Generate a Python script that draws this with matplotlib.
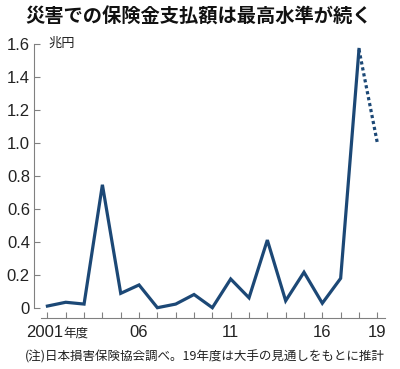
import matplotlib
matplotlib.use("Agg")
import matplotlib.pyplot as plt
from matplotlib.transforms import ScaledTranslation

# data (trillion yen), fiscal years 2001-2019 (2019 is an estimate)
years = list(range(2001, 2020))
payouts = [0.01, 0.033, 0.022, 0.745, 0.087, 0.138, 0.0, 0.022, 0.08, 0.0,
           0.174, 0.06, 0.41, 0.042, 0.215, 0.027, 0.178, 1.565, 1.0]
x_labels = {2001: "2001", 2006: "06", 2011: "11", 2016: "16", 2019: "19"}
y_ticks = [0, 0.2, 0.4, 0.6, 0.8, 1.0, 1.2, 1.4, 1.6]
y_labels = ["0", "0.2", "0.4", "0.6", "0.8", "1.0", "1.2", "1.4", "1.6"]

title = "災害での保険金支払額は最高水準が続く"
unit = "兆円"
note = "(注)日本損害保険協会調べ。19年度は大手の見通しをもとに推計"

navy = "#1c4876"
grey = "#808080"
num_font = ["Liberation Sans Narrow", "Liberation Sans", "DejaVu Sans"]
jp_font = ["Noto Sans CJK JP", "DejaVu Sans"]

fig = plt.figure(figsize=(4.0, 3.69), dpi=100)
ax = fig.add_axes([0.1025, 0.1661, 0.86, 0.7155])

# solid line for actual values, dotted for the 2019 estimate
ax.plot(years[:-1], payouts[:-1], color=navy, lw=2.3,
        solid_joinstyle="miter", clip_on=False)
ax.plot(years[-2:], payouts[-2:], color=navy, lw=2.3,
        dashes=(1, 0.9), dash_capstyle="butt", clip_on=False)

ax.set_xlim(2000.65, 2019.42)
ax.set_ylim(0, 1.6)

ax.spines["top"].set_visible(False)
ax.spines["right"].set_visible(False)
ax.spines["left"].set_position(("outward", 5))
ax.spines["bottom"].set_position(("outward", 7.6))
ax.spines["left"].set_bounds(0, 1.6)
for s in ("left", "bottom"):
    ax.spines[s].set_color(grey)
    ax.spines[s].set_linewidth(0.8)

ax.set_yticks(y_ticks)
ax.set_yticklabels(y_labels, family=num_font, fontsize=12, color="#222222")
ax.set_xticks(years)
ax.set_xticklabels([x_labels.get(y, "") for y in years],
                   family=num_font, fontsize=12, color="#222222")
ax.tick_params(axis="both", direction="in", length=4.3, width=0.8, color=grey)
ax.tick_params(axis="y", pad=3)
ax.tick_params(axis="x", pad=5)

# nudge "2001" left a little, then put "年度" right after it
first = ax.get_xticklabels()[0]
first.set_transform(first.get_transform()
                    + ScaledTranslation(-3 / 100, 0, fig.dpi_scale_trans))
ax.annotate("年度", xy=(2001, 0), xycoords=("data", "axes fraction"),
            xytext=(11.2, -18.3), textcoords="offset points",
            ha="left", va="center", family=jp_font, fontsize=9,
            color="#222222")

ax.text(0.023, 1.6, unit, transform=ax.get_yaxis_transform(),
        ha="left", va="center", family=jp_font, fontsize=9.5,
        color="#222222")

fig.text(0.496, 0.955, title, ha="center", va="center",
         family=jp_font, fontsize=13.9, fontweight="bold", color="#111111")
fig.text(0.5125, 0.033, note, ha="center", va="center",
         family=jp_font, fontsize=9, color="#222222")

fig.savefig("out.png", dpi=100)
